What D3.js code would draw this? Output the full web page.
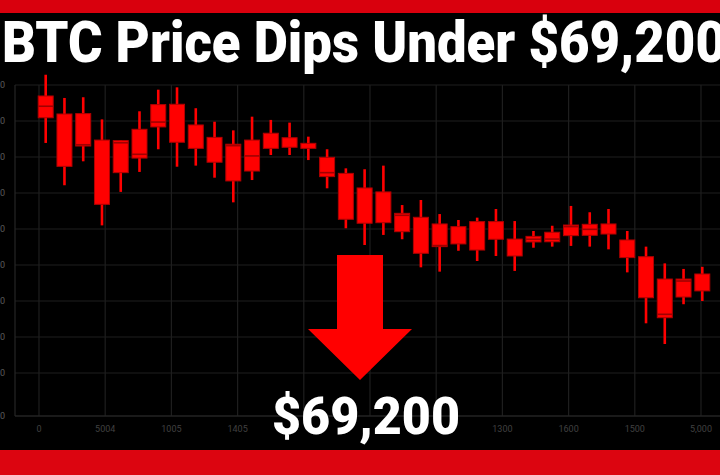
<!DOCTYPE html>
<html><head><meta charset="utf-8">
<script src="https://cdn.jsdelivr.net/npm/d3@7/dist/d3.min.js"></script>
<style>html,body{margin:0;padding:0;background:#000;overflow:hidden}</style>
</head><body>
<svg id="c" width="720" height="475"></svg>
<script>
// ---- data ----
const titleText = "BTC Price Dips Under $69,200";
const calloutText = "$69,200";
const openVals  = [69939,69839,69841,69694,69691,69754,69891,69893,69778,69709,69671,69694,69732,69707,69676,69598,69509,69428,69406,69287,69265,69228,69213,69241,69241,69144,69159,69182,69222,69226,69228,69139,69046,68922,68922,68950];
const highVals  = [70057,69928,69932,69809,69694,69854,69974,69987,69871,69796,69748,69824,69806,69791,69713,69643,69537,69532,69552,69333,69361,69283,69250,69263,69311,69244,69189,69218,69328,69293,69311,69189,69102,69009,68978,68990];
const lowVals   = [69678,69443,69576,69220,69406,69517,69643,69546,69552,69485,69348,69472,69611,69611,69583,69426,69204,69111,69167,69143,68987,68963,69079,69022,69050,68967,69096,69102,69106,69102,69087,68959,68676,68561,68782,68800];
const closeVals = [69818,69548,69661,69337,69513,69594,69767,69682,69648,69571,69467,69522,69648,69654,69648,69491,69254,69232,69235,69185,69065,69102,69117,69083,69143,69050,69128,69129,69163,69165,69172,69041,68818,68707,68822,68856];
const markVals  = [69882,null,69668,null,69679,69615,69794,null,null,null,69663,69606,null,null,null,69513,null,null,null,69276,null,69108,null,null,null,null,69143,69144,69213,69198,null,null,null,68726,68911,null];
const yTickValues = [70000,69800,69600,69400,69200,69000,68800,68600,68400,68161];
const yTickLabels = ["70,000","69,800","69,600","69,400","69,200","69,000","68,800","68,600","68,400","68,000"];
// tick labels under the callout are hidden in the reference (empty strings)
const xTickLabels = ["0","5004","1005","1405","","","","1300","1600","1500","5,000"];

// ---- layout ----
const svg = d3.select("#c");
const W = 720, H = 475;
const plot = {left:15, top:85, right:720, bottom:416};

svg.append("rect").attr("width",W).attr("height",H).attr("fill","#000");

const y = d3.scaleLinear().domain([68161,70000]).range([plot.bottom, plot.top]);
const x = d3.scaleLinear().domain([0, openVals.length-1]).range([45.7, 702.3]);
const xg = d3.scalePoint().domain(d3.range(xTickLabels.length)).range([39, 701]);

// grid
const g = svg.append("g");
g.selectAll("line.h").data(yTickValues).join("line")
  .attr("x1",plot.left).attr("x2",plot.right)
  .attr("y1",d=>y(d)).attr("y2",d=>y(d))
  .attr("stroke","#1e1e1e").attr("stroke-width",1.2);
g.selectAll("line.v").data(d3.range(xTickLabels.length)).join("line")
  .attr("x1",d=>xg(d)).attr("x2",d=>xg(d))
  .attr("y1",plot.top).attr("y2",plot.bottom)
  .attr("stroke","#1e1e1e").attr("stroke-width",1.2);
g.append("line").attr("x1",plot.left).attr("x2",plot.left).attr("y1",plot.top).attr("y2",plot.bottom).attr("stroke","#262626").attr("stroke-width",1.2);
g.append("line").attr("x1",plot.left).attr("x2",plot.right).attr("y1",plot.bottom).attr("y2",plot.bottom).attr("stroke","#262626").attr("stroke-width",1.2);

// y labels (cut by the left edge, as in the reference)
svg.selectAll("text.yl").data(yTickValues).join("text")
  .attr("x",5).attr("y",d=>y(d)+3)
  .attr("text-anchor","end").attr("font-family","Roboto, sans-serif").attr("font-size",9)
  .attr("fill","#5a5a5a").text((d,i)=>yTickLabels[i]);
// x labels
svg.selectAll("text.xl").data(d3.range(xTickLabels.length).filter(i=>xTickLabels[i]!=="")).join("text")
  .attr("x",d=>xg(d)).attr("y",432)
  .attr("text-anchor","middle").attr("font-family","Roboto, sans-serif").attr("font-size",9)
  .attr("fill","#404040").text(d=>xTickLabels[d]);

// candles
const idx = d3.range(openVals.length);
const bw = 15;
const cg = svg.append("g");
cg.selectAll("line.w").data(idx).join("line")
  .attr("x1",i=>x(i)).attr("x2",i=>x(i))
  .attr("y1",i=>y(highVals[i])).attr("y2",i=>y(lowVals[i]))
  .attr("stroke","#ff0000").attr("stroke-width",2.6);
cg.selectAll("rect.b").data(idx).join("rect")
  .attr("x",i=>x(i)-bw/2).attr("width",bw)
  .attr("y",i=>y(Math.max(openVals[i],closeVals[i])))
  .attr("height",i=>Math.max(1,Math.abs(y(openVals[i])-y(closeVals[i]))))
  .attr("fill","#ff0000").attr("stroke","#b00000").attr("stroke-width",1);
cg.selectAll("line.m").data(idx.filter(i=>markVals[i]!==null)).join("line")
  .attr("x1",i=>x(i)-bw/2).attr("x2",i=>x(i)+bw/2)
  .attr("y1",i=>y(markVals[i])).attr("y2",i=>y(markVals[i]))
  .attr("stroke","#a00000").attr("stroke-width",1.6);

// arrow
svg.append("path")
  .attr("d","M337,255 L383,255 L383,329 L412,329 L360,380 L308,329 L337,329 Z")
  .attr("fill","#ff0000");

// callout text
svg.append("text").attr("x",366).attr("y",434)
  .attr("text-anchor","middle").attr("font-family","Roboto, 'Open Sans', sans-serif")
  .attr("font-weight",900).attr("font-size",52).attr("fill","#fff")
  .attr("textLength",188).attr("lengthAdjust","spacingAndGlyphs")
  .text(calloutText);

// red bands
svg.append("rect").attr("x",0).attr("y",0).attr("width",W).attr("height",13).attr("fill","#d9000d");
svg.append("rect").attr("x",0).attr("y",450).attr("width",W).attr("height",25).attr("fill","#dc0510");

// title
svg.append("text").attr("x",2).attr("y",62)
  .attr("font-family","Roboto, sans-serif").attr("font-weight",900).attr("font-size",57)
  .attr("fill","#fff").attr("textLength",724).attr("lengthAdjust","spacingAndGlyphs")
  .text(titleText);
</script>
</body></html>
